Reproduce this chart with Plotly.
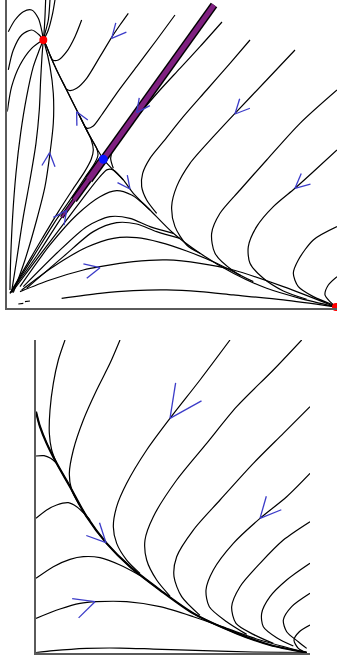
import math
import plotly.graph_objects as go

# ---------------- top panel data (phase-plane units) ----------------
top_sep_up = [(288,447),(268,480),(243,525),(213,585),(178,655),(148,715),(128,760),(116,790),(108,805)]
top_sep_down = [(288,447),(313,420),(348,385),(378,345),(428,295),(498,225),(578,165),(678,105),(778,60),(878,30),(983,5)]
top_band_upper = [(288,447),(450,673),(620,910)]
top_band_lower = [(288,447),(244,386),(200,325),(163,273)]
top_stable_lower = [(8,45),(90,160),(163,273),(230,367),(288,447)]

top_u1 = [(8,55),(10,145),(16,275),(26,405),(40,525),(58,635),(78,725),(96,775),(108,805)]
top_u0 = [(0,590),(13,665),(38,730),(73,780),(103,803)]
top_u2 = [(13,50),(28,145),(48,275),(68,385),(86,495),(96,595),(100,685),(104,755),(108,805)]
top_u3 = [(18,47),(53,145),(88,265),(113,365),(128,465),(138,555),(138,645),(128,725),(113,790),(108,805)]
top_u4 = [(8,45),(55,125),(105,210),(150,285),(195,355),(232,410),(252,448),(258,475),(252,505),(243,525),(213,585),(178,655),(148,715),(128,760),(116,790),(108,805)]
top_u5 = [(10,47),(75,150),(140,255),(195,335),(235,395),(262,435),(272,460),(268,480),(243,525),(213,585)]
top_a1 = [(3,830),(23,865),(48,890),(73,895),(93,870),(104,830),(108,805)]
top_a2 = [(3,715),(18,775),(43,820),(73,835),(96,820),(108,805)]
top_t1 = [(115,925),(113,875),(110,825),(108,805)]
top_t2 = [(143,925),(136,885),(123,835),(110,807)]
top_t3 = [(128,925),(123,865),(113,825),(108,805)]

top_b1 = [(223,865),(203,815),(178,770),(153,745),(136,745),(128,760)]
top_b2 = [(363,885),(338,850),(313,813),(278,755),(238,690),(208,660),(188,653),(178,657)]
top_b3 = [(503,880),(448,805),(388,725),(328,645),(283,580),(258,547),(240,540),(233,545)]

top_c1 = [(644,859),(578,785),(518,720),(458,655),(398,585),(348,520),(318,478),(310,450),(318,420)]
top_c2 = [(728,805),(668,735),(598,655),(528,575),(468,500),(428,450),(406,405),(403,365),(418,325),(448,285)]
top_c3 = [(863,775),(778,685),(683,585),(618,515),(548,435),(508,365),(493,305),(503,245),(538,190),(578,165)]
top_c4 = [(989,655),(878,555),(778,445),(698,355),(638,285),(613,225),(623,165),(678,112),(738,80)]
top_c5 = [(989,475),(913,405),(863,360),(798,305),(748,245),(723,185),(728,135),(768,90),(828,52),(898,27)]
top_c6 = [(989,245),(918,205),(873,145),(858,105),(873,65),(918,35),(978,10)]
top_c7 = [(989,95),(963,70),(953,40),(968,20),(983,7)]

top_d1 = [(13,47),(98,160),(178,265),(238,345),(278,395),(300,416),(318,415),(348,385)]
top_d2 = [(38,65),(128,190),(208,280),(278,335),(328,353),(373,340),(398,322),(428,295)]
top_d3 = [(48,65),(148,165),(238,245),(308,275),(368,270),(428,245),(498,225)]
top_d3b = [(58,60),(168,155),(258,230),(328,257),(388,253),(448,230),(518,210)]
top_d4 = [(43,55),(138,125),(238,183),(318,210),(388,212),(458,198),(538,172),(628,135),(700,98)]
top_d5 = [(38,50),(128,85),(228,115),(278,125),(378,140),(478,145),(578,135),(678,115),(828,65),(978,7)]
top_d6 = [(163,30),(278,45),(378,53),(478,55),(578,50),(678,40),(828,25),(978,5)]
top_dash = [[(33,13),(48,15)],[(53,20),(68,22)]]

top_red_pts = [(108,805),(986,4)]
top_blue_pts = [(288,447)]
# arrows: x, y, direction (deg), arm length (px)
top_arrows = [(313,810,229,16),(208,590,117,14),(388,587,234,15),(127,467,85,15),
              (178,294,54,15),(368,358,307,14),(683,583,227,16),(863,360,221,16),(278,122,13,17)]

# ---------------- bottom panel data ----------------
bot_main = [(0,723),(12,678),(32,628),(62,568),(102,498),(152,408),(212,328),(282,258),(372,188),(472,118),(602,58),(702,23),(812,0)]
bot_p1 = [(87,938),(67,878),(52,808),(42,728),(40,658),(47,608),(62,568)]
bot_p2 = [(252,938),(222,868),(182,788),(142,698),(112,608),(100,538),(107,488),(127,448),(152,408)]
bot_p3 = [(582,938),(492,818),(402,703),(332,608),(272,508),(242,438),(232,378),(242,328),(272,278),(312,238)]
bot_p4 = [(797,938),(712,848),(602,738),(512,628),(422,518),(352,408),(327,338),(332,278),(362,218),(402,170)]
bot_p5 = [(822,738),(742,658),(652,568),(552,458),(472,368),(422,288),(414,228),(437,168),(492,112)]
bot_p6 = [(822,538),(752,468),(672,403),(592,328),(532,248),(510,188),(520,138),(572,93),(632,55)]
bot_p7 = [(822,393),(742,338),(672,268),(612,198),(587,138),(600,88),(652,55),(712,28)]
bot_p8 = [(822,268),(752,218),(702,168),(677,118),(682,78),(722,45),(772,20)]
bot_p9 = [(822,178),(767,138),(742,98),(752,63),(787,33),(812,13)]
bot_p10 = [(822,83),(790,63),(774,38),(787,13),(812,0)]
bot_q1 = [(0,590),(24,591),(44,583),(62,568)]
bot_q2 = [(0,403),(32,428),(62,443),(97,450),(122,438),(142,420),(162,398)]
bot_q3 = [(0,223),(52,258),(102,280),(142,288),(192,285),(252,263),(312,232)]
bot_q4 = [(0,103),(72,131),(132,148),(182,153),(272,153),(372,138),(472,108),(572,73),(672,38),(812,0)]
bot_q5 = [(0,0),(52,6),(152,13),(252,14),(352,11),(502,6),(652,2),(812,0)]
bot_red_pts = [(817,-3)]
bot_arrows = [(402,703,235,36),(210,330,314,21),(177,153,18.6,23),(672,403,228,23)]

UNITS_PER_PX = 3.0
fig = go.Figure()

def add_curve(pts, xa, ya, color="black", width=1.2, smooth=True):
    fig.add_trace(go.Scatter(
        x=[p[0] for p in pts], y=[p[1] for p in pts], mode="lines",
        line=dict(color=color, width=width, shape="spline" if smooth else "linear",
                  smoothing=0.8 if smooth else None),
        xaxis=xa, yaxis=ya, hoverinfo="skip", showlegend=False))

def add_arrows(arrows, xa, ya):
    xs, ys = [], []
    half = 26
    for (vx, vy, ang, arm) in arrows:
        L = arm * UNITS_PER_PX
        back = ang + 180
        for s in (half, -half):
            a = math.radians(back + s)
            xs += [vx + L*math.cos(a), vx, None]
            ys += [vy + L*math.sin(a), vy, None]
    fig.add_trace(go.Scatter(x=xs, y=ys, mode="lines",
                             line=dict(color="#3b3bc8", width=1.3),
                             xaxis=xa, yaxis=ya, hoverinfo="skip", showlegend=False))

# ---- top panel ----
top_curves = [top_sep_up, top_sep_down, top_stable_lower, top_u0, top_u1, top_u2, top_u3, top_u4, top_u5,
              top_a1, top_a2, top_t1, top_t2, top_t3, top_b1, top_b2, top_b3,
              top_c1, top_c2, top_c3, top_c4, top_c5, top_c6, top_c7,
              top_d1, top_d2, top_d3, top_d3b, top_d4, top_d5, top_d6]
for c in top_curves:
    add_curve(c, "x", "y")
for seg in top_dash:
    add_curve(seg, "x", "y", smooth=False)

# purple band with black stippled edges
add_curve(top_band_upper, "x", "y", color="black", width=8, smooth=False)
add_curve(top_band_upper, "x", "y", color="#7f2080", width=5, smooth=False)
widths = [(9, 6), (7, 4), (4, 2)]
for i in range(3):
    seg = top_band_lower[i:i+2]
    add_curve(seg, "x", "y", color="black", width=widths[i][0], smooth=False)
for i in range(3):
    seg = top_band_lower[i:i+2]
    add_curve(seg, "x", "y", color="#7f2080", width=widths[i][1], smooth=False)

add_arrows(top_arrows, "x", "y")

fig.add_trace(go.Scatter(x=[p[0] for p in top_red_pts], y=[p[1] for p in top_red_pts], mode="markers",
                         marker=dict(color="#ff0000", size=8), cliponaxis=False,
                         xaxis="x", yaxis="y", hoverinfo="skip", showlegend=False))
fig.add_trace(go.Scatter(x=[p[0] for p in top_blue_pts], y=[p[1] for p in top_blue_pts], mode="markers",
                         marker=dict(color="#0a14ff", size=9), cliponaxis=False,
                         xaxis="x", yaxis="y", hoverinfo="skip", showlegend=False))

# ---- bottom panel ----
for c in [bot_main, bot_p1, bot_p2, bot_p3, bot_p4, bot_p5, bot_p6, bot_p7, bot_p8, bot_p9, bot_p10,
          bot_q1, bot_q2, bot_q3, bot_q4, bot_q5]:
    add_curve(c, "x2", "y2")
add_curve(bot_main, "x2", "y2", width=2.2)
add_arrows(bot_arrows, "x2", "y2")
fig.add_trace(go.Scatter(x=[p[0] for p in bot_red_pts], y=[p[1] for p in bot_red_pts], mode="markers",
                         marker=dict(color="#ff0000", size=8), cliponaxis=False,
                         xaxis="x2", yaxis="y2", hoverinfo="skip", showlegend=False))

W, H = 337, 657
ax_common = dict(showgrid=False, zeroline=False, showticklabels=False, ticks="",
                 showline=True, linecolor="#5a5a5a")
fig.update_layout(
    width=W, height=H, margin=dict(l=0, r=0, t=0, b=0),
    paper_bgcolor="white", plot_bgcolor="white",
    xaxis=dict(domain=[7.3/W, 1.0], range=[0, 989], anchor="y", **ax_common, linewidth=1.5),
    yaxis=dict(domain=[(H-308.3)/H, 1.0], range=[0, 925], anchor="x", **ax_common, linewidth=1.5),
    xaxis2=dict(domain=[36/W, 310/W], range=[0, 822], anchor="y2", **ax_common, linewidth=1.5),
    yaxis2=dict(domain=[(H-652.7)/H, (H-340)/H], range=[0, 938], anchor="x2", **ax_common, linewidth=1.5),
)
fig.write_html("out.html", config={"displayModeBar": False},
               post_script="document.body.style.margin='0';document.body.style.overflow='hidden';")
